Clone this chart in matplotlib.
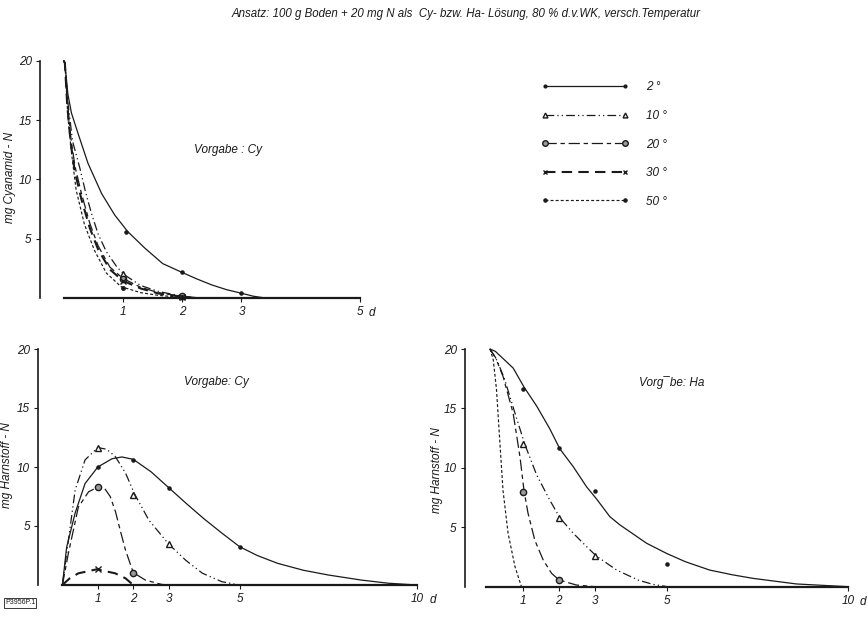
#!/usr/bin/env python3
"""Cyanamid- und Harnstoff-N im Boden bei verschiedener Temperatur."""

import matplotlib
matplotlib.use("Agg")
import matplotlib.pyplot as plt
from matplotlib.lines import Line2D

INK = "#1a1a1a"

# ------------------------------------------------------------------
# Data (x in days, y in mg N)
# ------------------------------------------------------------------
TEMP_LABELS = ["2 °", "10 °", "20 °", "30 °", "50 °"]

# Panel A: mg Cyanamid-N, Vorgabe Cy
a2_x = [0, 0.02, 0.07, 0.13, 0.24, 0.41, 0.64, 0.86, 1.08, 1.37, 1.67, 2.0, 2.25,
        2.5, 2.75, 3.0, 3.2, 3.4]
a2_y = [20, 19.8, 17.2, 15.6, 13.9, 11.35, 8.8, 7.0, 5.6, 4.2, 2.9, 2.15, 1.6,
        1.1, 0.7, 0.4, 0.15, 0]
a2_pts_x = [1.05, 2.0, 3.0]
a2_pts_y = [5.6, 2.2, 0.4]

a10_x = [0, 0.02, 0.07, 0.15, 0.27, 0.37, 0.47, 0.58, 0.72, 0.9, 1.04, 1.3, 1.6, 2.0, 2.3]
a10_y = [20, 19.8, 16.5, 13.2, 11.0, 8.9, 7.1, 5.4, 3.9, 2.6, 1.9, 1.05, 0.55, 0.15, 0]
a10_pts_x = [1.0, 2.0]
a10_pts_y = [2.0, 0.2]

a20_x = [0, 0.02, 0.06, 0.12, 0.19, 0.3, 0.44, 0.58, 0.78, 1.0, 1.3, 1.6, 2.0, 2.3]
a20_y = [20, 19.8, 16.5, 13.5, 11.1, 8.8, 6.3, 4.4, 2.6, 1.65, 0.9, 0.45, 0.12, 0]
a20_pts_x = [1.0, 2.0]
a20_pts_y = [1.6, 0.15]

a30_x = [0, 0.02, 0.06, 0.12, 0.19, 0.3, 0.44, 0.58, 0.78, 1.0, 1.3, 1.6, 2.0, 2.2]
a30_y = [20, 19.8, 16.2, 13.0, 10.6, 8.3, 5.9, 4.1, 2.4, 1.45, 0.8, 0.38, 0.1, 0]
a30_pts_x = [1.0, 2.0]
a30_pts_y = [1.4, 0.12]

a50_x = [0, 0.02, 0.07, 0.13, 0.21, 0.35, 0.52, 0.72, 0.97, 1.3, 1.6, 2.0, 2.2]
a50_y = [20, 19.8, 15.3, 12.3, 9.1, 6.2, 4.0, 2.1, 0.95, 0.45, 0.22, 0.05, 0]
a50_pts_x = [1.0, 2.0]
a50_pts_y = [0.85, 0.08]

# Panel B: mg Harnstoff-N, Vorgabe Cy
b2_x = [0, 0.12, 0.36, 0.64, 1.0, 1.4, 1.68, 2.0, 2.5, 3.0, 3.5, 4.0, 4.5, 5.0,
        5.5, 6.07, 6.8, 7.5, 8.43, 9.2, 10]
b2_y = [0, 3.2, 6.1, 8.6, 10.0, 10.7, 10.85, 10.65, 9.6, 8.25, 6.9, 5.6, 4.4, 3.25,
        2.5, 1.84, 1.25, 0.85, 0.42, 0.15, 0]
b2_pts_x = [1, 2, 3, 5]
b2_pts_y = [10.0, 10.6, 8.25, 3.2]

b10_x = [0, 0.17, 0.36, 0.64, 1.0, 1.25, 1.49, 1.78, 2.04, 2.44, 3.0, 3.48, 3.95, 4.5, 5.0]
b10_y = [0, 3.8, 8.05, 10.6, 11.65, 11.5, 10.9, 9.5, 7.7, 5.5, 3.47, 2.1, 1.0, 0.28, 0]
b10_pts_x = [1, 2, 3]
b10_pts_y = [11.65, 7.6, 3.5]

b20_x = [0, 0.17, 0.45, 0.74, 1.0, 1.2, 1.35, 1.5, 1.63, 1.78, 2.0, 2.34, 2.8, 3.0]
b20_y = [0, 2.7, 6.6, 7.9, 8.3, 8.15, 7.5, 6.2, 4.66, 2.97, 1.05, 0.42, 0.05, 0]
b20_pts_x = [1, 2]
b20_pts_y = [8.3, 1.05]

b30_x = [0, 0.2, 0.45, 0.97, 1.49, 1.78, 2.0]
b30_y = [0, 0.55, 0.99, 1.33, 0.99, 0.57, 0]
b30_pts_x = [1]
b30_pts_y = [1.35]

# Panel C: mg Harnstoff-N, Vorgabe Ha
c2_x = [0.1, 0.25, 0.46, 0.74, 1.04, 1.39, 1.75, 2.03, 2.4, 2.77, 3.04, 3.41, 3.69,
        4.43, 4.98, 5.5, 6.17, 6.8, 7.37, 8.57, 10]
c2_y = [20, 19.8, 19.2, 18.4, 16.8, 15.2, 13.3, 11.6, 10.1, 8.4, 7.4, 5.9, 5.2,
        3.65, 2.8, 2.1, 1.4, 1.0, 0.7, 0.23, 0]
c2_pts_x = [1, 2, 3, 5]
c2_pts_y = [16.6, 11.65, 8.05, 1.9]

c10_x = [0.1, 0.3, 0.5, 0.75, 1.06, 1.39, 1.75, 2.03, 2.4, 2.77, 3.04, 3.6, 4.2, 4.6, 5.0]
c10_y = [20, 19.0, 17.5, 15.0, 12.0, 9.4, 7.3, 5.8, 4.5, 3.37, 2.58, 1.4, 0.55, 0.2, 0]
c10_pts_x = [1, 2, 3]
c10_pts_y = [12.0, 5.8, 2.6]

c20_x = [0.1, 0.25, 0.46, 0.74, 0.93, 1.04, 1.15, 1.34, 1.57, 1.8, 2.01, 2.49, 3.0]
c20_y = [20, 19.3, 17.7, 14.6, 10.9, 8.1, 6.2, 3.9, 2.25, 1.13, 0.56, 0.14, 0]
c20_pts_x = [1, 2]
c20_pts_y = [8.0, 0.55]

c50_x = [0.1, 0.19, 0.28, 0.37, 0.46, 0.6, 0.79, 0.97]
c50_y = [20, 19.1, 16.6, 12.3, 8.1, 4.5, 1.7, 0]

# ------------------------------------------------------------------
# Styles per temperature
# ------------------------------------------------------------------
STYLES = {
    "2 °":  dict(ls="-", lw=0.9, marker=".", ms=4.5, mfc=INK),
    "10 °": dict(ls=(0, (7, 2.5, 1, 2.5, 1, 2.5)), lw=0.9, marker="^", ms=4, mfc="white"),
    "20 °": dict(ls=(0, (9, 3, 3.5, 3)), lw=0.9, marker="o", ms=4.5, mfc="#9a9a9a"),
    "30 °": dict(ls=(0, (5, 3)), lw=1.5, marker="x", ms=4, mfc=INK),
    "50 °": dict(ls=(0, (2.5, 1.8)), lw=0.85, marker=".", ms=5, mfc=INK),
}


def draw_series(ax, label, cx, cy, px=None, py=None):
    st = STYLES[label]
    ax.plot(cx, cy, color=INK, ls=st["ls"], lw=st["lw"], clip_on=False,
            solid_capstyle="round", zorder=2)
    if px:
        ax.plot(px, py, ls="none", marker=st["marker"], ms=st["ms"],
                mfc=st["mfc"], mec=INK, mew=1.0, clip_on=False, zorder=3)


def style_axes(ax, xleft, xmax, xticks, ylabel, label_coords, d_offset):
    ax.set_xlim(xleft, xmax)
    ax.set_ylim(0, 20)
    for s in ("top", "right"):
        ax.spines[s].set_visible(False)
    ax.spines["left"].set_bounds(0, 20)
    ax.spines["left"].set_linewidth(1.2)
    ax.spines["bottom"].set_bounds(0, xmax)
    ax.spines["bottom"].set_linewidth(1.6)
    for s in ("left", "bottom"):
        ax.spines[s].set_color(INK)
    ax.set_yticks([5, 10, 15, 20])
    ax.set_xticks(xticks)
    ax.tick_params(axis="both", colors=INK, labelsize=8.5, length=3, width=0.8,
                   direction="out", pad=3)
    ax.set_ylabel(ylabel, fontsize=8.5, color=INK)
    ax.yaxis.set_label_coords(*label_coords)
    ax.annotate("d", xy=(xmax, 0), xycoords="data", xytext=(d_offset, -6.5),
                textcoords="offset points", ha="left", va="top",
                fontsize=8.5, color=INK)


def main():
    plt.rcParams.update({
        "font.family": ["Liberation Sans", "DejaVu Sans"],
        "font.style": "italic",
        "figure.dpi": 100,
    })

    W, H = 868, 619
    fig = plt.figure(figsize=(W / 100, H / 100), facecolor="white")

    def px_axes(left, right, bottom, top):
        return fig.add_axes([left / W, 1 - bottom / H, (right - left) / W, (bottom - top) / H])

    # --- Panel A -------------------------------------------------
    ax_a = px_axes(40, 360, 298, 60.7)
    draw_series(ax_a, "2 °", a2_x, a2_y, a2_pts_x, a2_pts_y)
    draw_series(ax_a, "10 °", a10_x, a10_y, a10_pts_x, a10_pts_y)
    draw_series(ax_a, "20 °", a20_x, a20_y, a20_pts_x, a20_pts_y)
    draw_series(ax_a, "30 °", a30_x, a30_y, a30_pts_x, a30_pts_y)
    draw_series(ax_a, "50 °", a50_x, a50_y, a50_pts_x, a50_pts_y)
    style_axes(ax_a, -0.4, 5, [1, 2, 3, 5], "mg Cyanamid - N", (-0.075, 0.51), 6)
    ax_a.text(0.5875, 0.624, "Vorgabe : Cy", transform=ax_a.transAxes,
              ha="center", va="center", fontsize=8.5, color=INK)

    # --- Panel B -------------------------------------------------
    ax_b = px_axes(38.3, 416.7, 585, 349)
    draw_series(ax_b, "2 °", b2_x, b2_y, b2_pts_x, b2_pts_y)
    draw_series(ax_b, "10 °", b10_x, b10_y, b10_pts_x, b10_pts_y)
    draw_series(ax_b, "20 °", b20_x, b20_y, b20_pts_x, b20_pts_y)
    draw_series(ax_b, "30 °", b30_x, b30_y, b30_pts_x, b30_pts_y)
    style_axes(ax_b, -0.68, 10, [1, 2, 3, 5, 10], "mg Harnstoff - N", (-0.066, 0.51), 9)
    ax_b.text(0.47, 0.86, "Vorgabe: Cy", transform=ax_b.transAxes,
              ha="center", va="center", fontsize=8.5, color=INK)

    # --- Panel C -------------------------------------------------
    ax_c = px_axes(465, 848.3, 586.7, 349)
    draw_series(ax_c, "2 °", c2_x, c2_y, c2_pts_x, c2_pts_y)
    draw_series(ax_c, "10 °", c10_x, c10_y, c10_pts_x, c10_pts_y)
    draw_series(ax_c, "20 °", c20_x, c20_y, c20_pts_x, c20_pts_y)
    draw_series(ax_c, "50 °", c50_x, c50_y)
    style_axes(ax_c, -0.59, 10, [1, 2, 3, 5, 10], "mg Harnstoff - N", (-0.058, 0.49), 8)
    ax_c.text(0.54, 0.861, "Vorg\u00afbe: Ha", transform=ax_c.transAxes,
              ha="center", va="center", fontsize=8.5, color=INK)

    # --- Legend --------------------------------------------------
    handles = []
    for lab in TEMP_LABELS:
        st = STYLES[lab]
        handles.append(Line2D([], [], color=INK, ls=st["ls"], lw=st["lw"],
                              marker=st["marker"], ms=st["ms"] - 0.5,
                              mfc=st["mfc"], mec=INK, mew=1.0))
    fig.legend(handles, TEMP_LABELS, loc="upper left",
               bbox_to_anchor=(541 / W, 1 - 81.5 / H),
               frameon=False, numpoints=2, fontsize=8.5,
               handlelength=7.4, handletextpad=1.5, labelspacing=1.4,
               borderpad=0, borderaxespad=0, labelcolor=INK)

    # --- Title and plate number ---------------------------------
    fig.text(466 / W, 1 - 14 / H,
             "Ansatz: 100 g Boden + 20 mg N als  Cy- bzw. Ha- L\u00f6sung, "
             "80 % d.v.WK, versch.Temperatur",
             ha="center", va="center", fontsize=8.3, color=INK)
    fig.text(20 / W, 1 - 603 / H, "P3956P.1", ha="center", va="center",
             fontsize=5, color=INK, style="normal",
             bbox=dict(boxstyle="square,pad=0.15", fc="white", ec=INK, lw=0.6))

    fig.savefig("out.png", dpi=100, facecolor="white")


if __name__ == "__main__":
    main()
